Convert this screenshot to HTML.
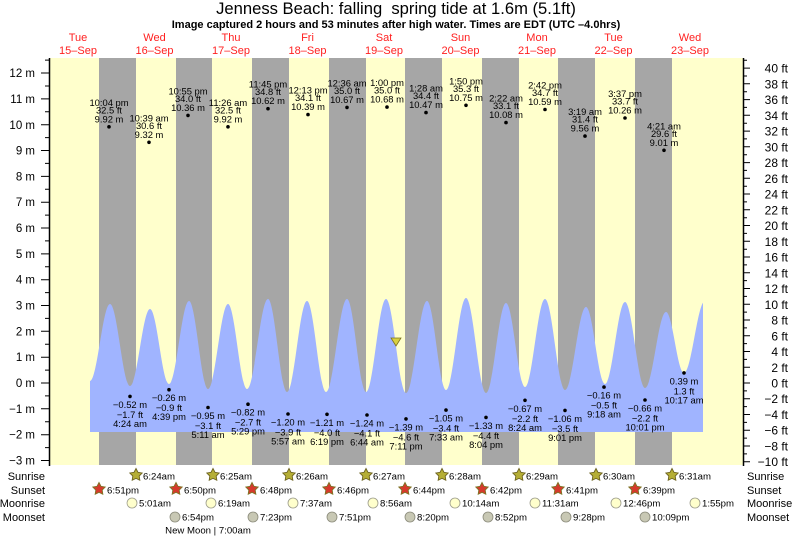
<!DOCTYPE html>
<html><head><meta charset="utf-8"><style>
html,body{margin:0;padding:0;background:#fff;}
svg{display:block;}
text{font-family:"Liberation Sans",Arial,sans-serif;fill:#000;}
.a{font-size:9.4px;text-anchor:middle;}
.d{font-size:11px;fill:#ff2020;text-anchor:middle;}
.l{font-size:11.5px;text-anchor:end;}
.r{font-size:12px;text-anchor:end;}
.b{font-size:9.6px;}
.rl{font-size:11px;}
</style></head><body>
<svg width="793" height="539" viewBox="0 0 793 539" xmlns="http://www.w3.org/2000/svg">
<defs>
<path id="star" d="M0,-6.5 L2.0,-2.7 L6.18,-2.01 L3.2,1.0 L3.82,5.26 L0,3.4 L-3.82,5.26 L-3.2,1.0 L-6.18,-2.01 L-2.0,-2.7 Z"/>
<clipPath id="pc"><rect x="50" y="58" width="653" height="407"/></clipPath>
</defs>
<rect x="0" y="0" width="793" height="539" fill="#fff"/>
<!-- title -->
<text x="396" y="14" style="font-size:16.6px;text-anchor:middle;white-space:pre">Jenness Beach: falling  spring tide at 1.6m (5.1ft)</text>
<text x="396" y="28" style="font-size:11px;font-weight:bold;text-anchor:middle">Image captured 2 hours and 53 minutes after high water. Times are EDT (UTC –4.0hrs)</text>
<!-- day labels -->
<text class="d" x="78" y="41">Tue</text><text class="d" x="78" y="54">15–Sep</text>
<text class="d" x="154.5" y="41">Wed</text><text class="d" x="154.5" y="54">16–Sep</text>
<text class="d" x="231" y="41">Thu</text><text class="d" x="231" y="54">17–Sep</text>
<text class="d" x="307.5" y="41">Fri</text><text class="d" x="307.5" y="54">18–Sep</text>
<text class="d" x="384" y="41">Sat</text><text class="d" x="384" y="54">19–Sep</text>
<text class="d" x="460.5" y="41">Sun</text><text class="d" x="460.5" y="54">20–Sep</text>
<text class="d" x="537" y="41">Mon</text><text class="d" x="537" y="54">21–Sep</text>
<text class="d" x="613.5" y="41">Tue</text><text class="d" x="613.5" y="54">22–Sep</text>
<text class="d" x="690" y="41">Wed</text><text class="d" x="690" y="54">23–Sep</text>
<!-- plot background -->
<rect x="50" y="58" width="693" height="407" fill="#ffffcc"/>
<g fill="#a6a6a6">
<rect x="99" y="58" width="37" height="407"/>
<rect x="176" y="58" width="36" height="407"/>
<rect x="252" y="58" width="37" height="407"/>
<rect x="329" y="58" width="37" height="407"/>
<rect x="405" y="58" width="37" height="407"/>
<rect x="482" y="58" width="37" height="407"/>
<rect x="558" y="58" width="37" height="407"/>
<rect x="635" y="58" width="37" height="407"/>
</g>
<!-- tide fill -->
<path clip-path="url(#pc)" fill="#a0b4ff" d="M90,432 L90,381
C97.27,381 102.73,304 110,304
C117.27,304 122.73,386 130,386
C137.27,386 142.73,309 150,309
C156.9,309 162.1,384 169,384
C176.27,384 181.73,301 189,301
C195.9,301 201.1,389 208,389
C215.27,389 220.73,304 228,304
C234.9,304 240.1,389 247,389
C254.63,389 260.37,299 268,299
C274.9,299 280.1,392 287,392
C294.27,392 299.73,301 307,301
C313.9,301 319.1,392 326,392
C333.63,392 339.37,299 347,299
C353.9,299 359.1,392 366,392
C373.27,392 378.73,299 386,299
C393.27,299 398.73,393 406,393
C413.63,393 419.37,301 427,301
C433.9,301 439.1,390 446,390
C453.27,390 458.73,298 466,298
C473.27,298 478.73,393 486,393
C493.27,393 498.73,303 506,303
C512.9,303 518.1,387 525,387
C532.27,387 537.73,299 545,299
C552.27,299 557.73,390 565,390
C572.63,390 578.37,307 586,307
C592.9,307 598.1,384 605,384
C612.27,384 617.73,302 625,302
C632.27,302 637.73,388 645,388
C652.63,388 658.37,312 666,312
C672.54,312 677.46,373 684,373
C691.6,373 697.4,301 705,301
L705,432 Z"/>
<!-- current marker -->
<polygon points="391,338 401,338 396,346" fill="#d8d040" stroke="#7a7020" stroke-width="0.8"/>
<!-- axes -->
<g stroke="#000" stroke-width="1.5" fill="none">
<line x1="49.5" y1="58" x2="49.5" y2="466"/>
<line x1="743.5" y1="58" x2="743.5" y2="466"/>
</g>
<g stroke="#000" stroke-width="1">
<path d="M41,73H49M41,98.9H49M41,124.7H49M41,150.5H49M41,176.4H49M41,202.2H49M41,228H49M41,253.9H49M41,279.7H49M41,305.5H49M41,331.3H49M41,357.2H49M41,383H49M41,408.8H49M41,434.7H49M41,460.5H49"/>
<path d="M45,60.1H49M45,86H49M45,111.8H49M45,137.6H49M45,163.4H49M45,189.3H49M45,215.1H49M45,240.9H49M45,266.8H49M45,292.6H49M45,318.4H49M45,344.3H49M45,370.1H49M45,395.9H49M45,421.8H49M45,447.6H49"/>
<path d="M744,68.1H750M744,83.8H750M744,99.6H750M744,115.3H750M744,131.1H750M744,146.8H750M744,162.6H750M744,178.3H750M744,194H750M744,209.8H750M744,225.5H750M744,241.3H750M744,257H750M744,272.8H750M744,288.5H750M744,304.3H750M744,320H750M744,335.8H750M744,351.5H750M744,367.3H750M744,383H750M744,398.7H750M744,414.5H750M744,430.2H750M744,446H750M744,461.7H750"/>
<path d="M744,60.2H747M744,76H747M744,91.7H747M744,107.4H747M744,123.2H747M744,138.9H747M744,154.7H747M744,170.4H747M744,186.2H747M744,201.9H747M744,217.7H747M744,233.4H747M744,249.2H747M744,264.9H747M744,280.6H747M744,296.4H747M744,312.1H747M744,327.9H747M744,343.6H747M744,359.4H747M744,375.1H747M744,390.9H747M744,406.6H747M744,422.4H747M744,438.1H747M744,453.9H747"/>
</g>
<!-- left labels -->
<text class="l" x="35" y="77">12 m</text>
<text class="l" x="35" y="103">11 m</text>
<text class="l" x="35" y="129">10 m</text>
<text class="l" x="35" y="154.5">9 m</text>
<text class="l" x="35" y="180.5">8 m</text>
<text class="l" x="35" y="206">7 m</text>
<text class="l" x="35" y="232">6 m</text>
<text class="l" x="35" y="258">5 m</text>
<text class="l" x="35" y="283.5">4 m</text>
<text class="l" x="35" y="309.5">3 m</text>
<text class="l" x="35" y="335.5">2 m</text>
<text class="l" x="35" y="361">1 m</text>
<text class="l" x="35" y="387">0 m</text>
<text class="l" x="35" y="413">−1 m</text>
<text class="l" x="35" y="438.5">−2 m</text>
<text class="l" x="35" y="464.5">−3 m</text>
<!-- right labels -->
<text class="r" x="788" y="72.5">40 ft</text>
<text class="r" x="788" y="88.3">38 ft</text>
<text class="r" x="788" y="104">36 ft</text>
<text class="r" x="788" y="119.8">34 ft</text>
<text class="r" x="788" y="135.5">32 ft</text>
<text class="r" x="788" y="151.3">30 ft</text>
<text class="r" x="788" y="167">28 ft</text>
<text class="r" x="788" y="182.8">26 ft</text>
<text class="r" x="788" y="198.5">24 ft</text>
<text class="r" x="788" y="214.3">22 ft</text>
<text class="r" x="788" y="230">20 ft</text>
<text class="r" x="788" y="245.8">18 ft</text>
<text class="r" x="788" y="261.5">16 ft</text>
<text class="r" x="788" y="277.3">14 ft</text>
<text class="r" x="788" y="293">12 ft</text>
<text class="r" x="788" y="308.8">10 ft</text>
<text class="r" x="788" y="324.5">8 ft</text>
<text class="r" x="788" y="340.3">6 ft</text>
<text class="r" x="788" y="356">4 ft</text>
<text class="r" x="788" y="371.8">2 ft</text>
<text class="r" x="788" y="387.5">0 ft</text>
<text class="r" x="788" y="403.2">−2 ft</text>
<text class="r" x="788" y="419">−4 ft</text>
<text class="r" x="788" y="434.7">−6 ft</text>
<text class="r" x="788" y="450.5">−8 ft</text>
<text class="r" x="788" y="466.2">−10 ft</text>
<!-- dots -->
<g fill="#000">
<circle cx="109" cy="126.8" r="1.8"/><circle cx="149" cy="142.3" r="1.8"/><circle cx="188" cy="115.4" r="1.8"/>
<circle cx="228" cy="126.8" r="1.8"/><circle cx="268" cy="108.7" r="1.8"/><circle cx="308" cy="114.6" r="1.8"/>
<circle cx="347" cy="107.4" r="1.8"/><circle cx="387" cy="107.1" r="1.8"/><circle cx="426" cy="112.6" r="1.8"/>
<circle cx="466" cy="105.3" r="1.8"/><circle cx="506" cy="122.6" r="1.8"/><circle cx="545" cy="109.5" r="1.8"/>
<circle cx="585" cy="136.1" r="1.8"/><circle cx="625" cy="118" r="1.8"/><circle cx="664" cy="150.3" r="1.8"/>
<circle cx="130" cy="396.4" r="1.8"/><circle cx="169" cy="389.7" r="1.8"/><circle cx="208" cy="407.5" r="1.8"/>
<circle cx="248" cy="404.2" r="1.8"/><circle cx="288" cy="414" r="1.8"/><circle cx="327" cy="414.3" r="1.8"/>
<circle cx="367" cy="415" r="1.8"/><circle cx="406" cy="418.9" r="1.8"/><circle cx="446" cy="410.1" r="1.8"/>
<circle cx="486" cy="417.4" r="1.8"/><circle cx="525" cy="400.3" r="1.8"/><circle cx="565" cy="410.4" r="1.8"/>
<circle cx="604" cy="387.1" r="1.8"/><circle cx="645" cy="400" r="1.8"/><circle cx="684" cy="372.9" r="1.8"/>
</g>
<!-- high tide labels -->
<g class="a">
<text class="a" x="109" y="105.8">10:04 pm</text><text class="a" x="109" y="113.3">32.5 ft</text><text class="a" x="109" y="122.3">9.92 m</text>
<text class="a" x="149" y="121.3">10:39 am</text><text class="a" x="149" y="128.8">30.6 ft</text><text class="a" x="149" y="137.8">9.32 m</text>
<text class="a" x="188" y="94.4">10:55 pm</text><text class="a" x="188" y="101.9">34.0 ft</text><text class="a" x="188" y="110.9">10.36 m</text>
<text class="a" x="228" y="105.8">11:26 am</text><text class="a" x="228" y="113.3">32.5 ft</text><text class="a" x="228" y="122.3">9.92 m</text>
<text class="a" x="268" y="87.7">11:45 pm</text><text class="a" x="268" y="95.2">34.8 ft</text><text class="a" x="268" y="104.2">10.62 m</text>
<text class="a" x="308" y="93.6">12:13 pm</text><text class="a" x="308" y="101.1">34.1 ft</text><text class="a" x="308" y="110.1">10.39 m</text>
<text class="a" x="347" y="86.4">12:36 am</text><text class="a" x="347" y="93.9">35.0 ft</text><text class="a" x="347" y="102.9">10.67 m</text>
<text class="a" x="387" y="86.1">1:00 pm</text><text class="a" x="387" y="93.6">35.0 ft</text><text class="a" x="387" y="102.6">10.68 m</text>
<text class="a" x="426" y="91.6">1:28 am</text><text class="a" x="426" y="99.1">34.4 ft</text><text class="a" x="426" y="108.1">10.47 m</text>
<text class="a" x="466" y="84.3">1:50 pm</text><text class="a" x="466" y="91.8">35.3 ft</text><text class="a" x="466" y="100.8">10.75 m</text>
<text class="a" x="506" y="101.6">2:22 am</text><text class="a" x="506" y="109.1">33.1 ft</text><text class="a" x="506" y="118.1">10.08 m</text>
<text class="a" x="545" y="88.5">2:42 pm</text><text class="a" x="545" y="96">34.7 ft</text><text class="a" x="545" y="105">10.59 m</text>
<text class="a" x="585" y="115.1">3:19 am</text><text class="a" x="585" y="122.6">31.4 ft</text><text class="a" x="585" y="131.6">9.56 m</text>
<text class="a" x="625" y="97">3:37 pm</text><text class="a" x="625" y="104.5">33.7 ft</text><text class="a" x="625" y="113.5">10.26 m</text>
<text class="a" x="664" y="129.3">4:21 am</text><text class="a" x="664" y="136.8">29.6 ft</text><text class="a" x="664" y="145.8">9.01 m</text>
</g>
<!-- low tide labels -->
<g>
<text class="a" x="130" y="407.9">−0.52 m</text><text class="a" x="130" y="417.9">−1.7 ft</text><text class="a" x="130" y="426.9">4:24 am</text>
<text class="a" x="169" y="401.2">−0.26 m</text><text class="a" x="169" y="411.2">−0.9 ft</text><text class="a" x="169" y="420.2">4:39 pm</text>
<text class="a" x="208" y="419">−0.95 m</text><text class="a" x="208" y="429">−3.1 ft</text><text class="a" x="208" y="438">5:11 am</text>
<text class="a" x="248" y="415.7">−0.82 m</text><text class="a" x="248" y="425.7">−2.7 ft</text><text class="a" x="248" y="434.7">5:29 pm</text>
<text class="a" x="288" y="425.5">−1.20 m</text><text class="a" x="288" y="435.5">−3.9 ft</text><text class="a" x="288" y="444.5">5:57 am</text>
<text class="a" x="327" y="425.8">−1.21 m</text><text class="a" x="327" y="435.8">−4.0 ft</text><text class="a" x="327" y="444.8">6:19 pm</text>
<text class="a" x="367" y="426.5">−1.24 m</text><text class="a" x="367" y="436.5">−4.1 ft</text><text class="a" x="367" y="445.5">6:44 am</text>
<text class="a" x="406" y="430.4">−1.39 m</text><text class="a" x="406" y="440.4">−4.6 ft</text><text class="a" x="406" y="449.4">7:11 pm</text>
<text class="a" x="446" y="421.6">−1.05 m</text><text class="a" x="446" y="431.6">−3.4 ft</text><text class="a" x="446" y="440.6">7:33 am</text>
<text class="a" x="486" y="428.9">−1.33 m</text><text class="a" x="486" y="438.9">−4.4 ft</text><text class="a" x="486" y="447.9">8:04 pm</text>
<text class="a" x="525" y="411.8">−0.67 m</text><text class="a" x="525" y="421.8">−2.2 ft</text><text class="a" x="525" y="430.8">8:24 am</text>
<text class="a" x="565" y="421.9">−1.06 m</text><text class="a" x="565" y="431.9">−3.5 ft</text><text class="a" x="565" y="440.9">9:01 pm</text>
<text class="a" x="604" y="398.6">−0.16 m</text><text class="a" x="604" y="408.6">−0.5 ft</text><text class="a" x="604" y="417.6">9:18 am</text>
<text class="a" x="645" y="411.5">−0.66 m</text><text class="a" x="645" y="421.5">−2.2 ft</text><text class="a" x="645" y="430.5">10:01 pm</text>
<text class="a" x="684" y="384.4">0.39 m</text><text class="a" x="684" y="394.4">1.3 ft</text><text class="a" x="684" y="403.4">10:17 am</text>
</g>
<!-- bottom rows labels -->
<text class="rl" x="45" y="480" text-anchor="end">Sunrise</text>
<text class="rl" x="45" y="494" text-anchor="end">Sunset</text>
<text class="rl" x="45" y="507" text-anchor="end">Moonrise</text>
<text class="rl" x="45" y="521" text-anchor="end">Moonset</text>
<text class="rl" x="747" y="480">Sunrise</text>
<text class="rl" x="747" y="494">Sunset</text>
<text class="rl" x="747" y="507">Moonrise</text>
<text class="rl" x="747" y="521">Moonset</text>
<!-- sunrise -->
<g fill="#b5ae35" stroke="#6e6422" stroke-width="0.9">
<use href="#star" x="136" y="475"/><use href="#star" x="213" y="475"/><use href="#star" x="289" y="475"/><use href="#star" x="366" y="475"/>
<use href="#star" x="442" y="475"/><use href="#star" x="519" y="475"/><use href="#star" x="596" y="475"/><use href="#star" x="672" y="475"/>
</g>
<g class="b">
<text class="b" x="143" y="479.5">6:24am</text><text class="b" x="220" y="479.5">6:25am</text><text class="b" x="296" y="479.5">6:26am</text><text class="b" x="373" y="479.5">6:27am</text>
<text class="b" x="449" y="479.5">6:28am</text><text class="b" x="526" y="479.5">6:29am</text><text class="b" x="603" y="479.5">6:30am</text><text class="b" x="679" y="479.5">6:31am</text>
</g>
<!-- sunset -->
<g fill="#d63a2c" stroke="#7e7426" stroke-width="0.9">
<use href="#star" x="99" y="489"/><use href="#star" x="176" y="489"/><use href="#star" x="252" y="489"/><use href="#star" x="329" y="489"/>
<use href="#star" x="405" y="489"/><use href="#star" x="482" y="489"/><use href="#star" x="558" y="489"/><use href="#star" x="635" y="489"/>
</g>
<text class="b" x="107" y="493.5">6:51pm</text><text class="b" x="184" y="493.5">6:50pm</text><text class="b" x="260" y="493.5">6:48pm</text><text class="b" x="337" y="493.5">6:46pm</text>
<text class="b" x="413" y="493.5">6:44pm</text><text class="b" x="490" y="493.5">6:42pm</text><text class="b" x="566" y="493.5">6:41pm</text><text class="b" x="643" y="493.5">6:39pm</text>
<!-- moonrise -->
<g fill="#ffffcc" stroke="#9a9a8a" stroke-width="0.8">
<circle cx="132" cy="503" r="5"/><circle cx="211" cy="503" r="5"/><circle cx="293" cy="503" r="5"/><circle cx="373" cy="503" r="5"/>
<circle cx="455" cy="503" r="5"/><circle cx="535" cy="503" r="5"/><circle cx="616" cy="503" r="5"/><circle cx="695" cy="503" r="5"/>
</g>
<text class="b" x="139" y="506.5">5:01am</text><text class="b" x="218" y="506.5">6:19am</text><text class="b" x="300" y="506.5">7:37am</text><text class="b" x="380" y="506.5">8:56am</text>
<text class="b" x="462" y="506.5">10:14am</text><text class="b" x="542" y="506.5">11:31am</text><text class="b" x="623" y="506.5">12:46pm</text><text class="b" x="702" y="506.5">1:55pm</text>
<!-- moonset -->
<g fill="#c8c8b4" stroke="#8a8a7a" stroke-width="0.8">
<circle cx="175" cy="517" r="5"/><circle cx="253" cy="517" r="5"/><circle cx="332" cy="517" r="5"/><circle cx="410" cy="517" r="5"/>
<circle cx="488" cy="517" r="5"/><circle cx="566" cy="517" r="5"/><circle cx="645" cy="517" r="5"/>
</g>
<text class="b" x="182" y="520.5">6:54pm</text><text class="b" x="260" y="520.5">7:23pm</text><text class="b" x="339" y="520.5">7:51pm</text><text class="b" x="417" y="520.5">8:20pm</text>
<text class="b" x="495" y="520.5">8:52pm</text><text class="b" x="573" y="520.5">9:28pm</text><text class="b" x="652" y="520.5">10:09pm</text>
<text class="b" x="208" y="533.5" text-anchor="middle">New Moon | 7:00am</text>
</svg>
</body></html>
